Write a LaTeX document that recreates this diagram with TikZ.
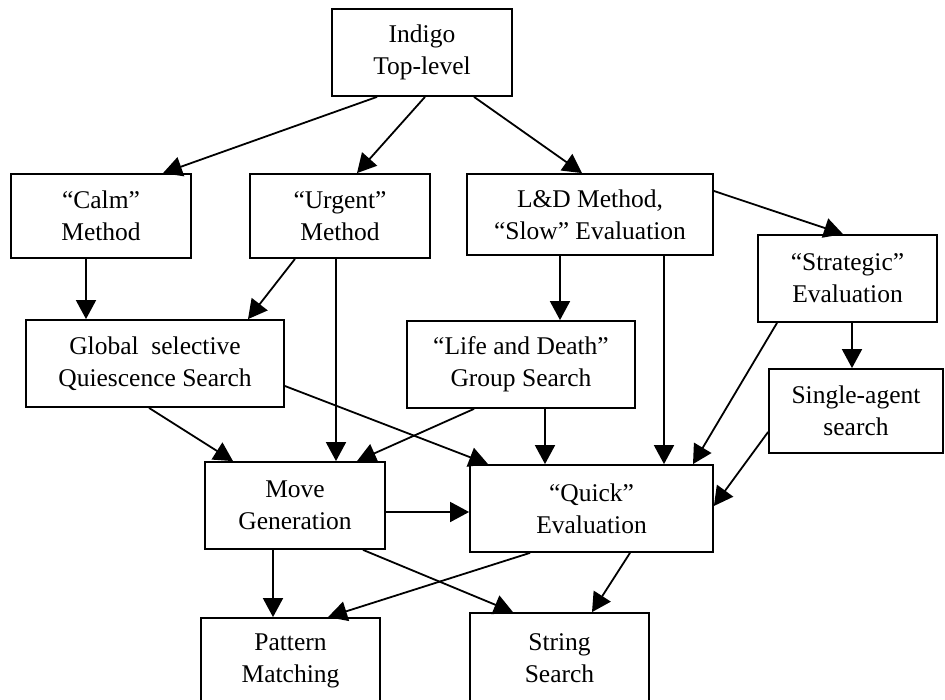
\documentclass[tikz,border=0pt]{standalone}
\usepackage{fontspec}
\setmainfont{Liberation Serif}
\usetikzlibrary{arrows.meta}
\begin{document}
\begin{tikzpicture}[x=1pt,y=-1pt,
  box/.style={draw,line width=1.8pt,align=center,inner sep=0pt,
    font=\fontsize{25.5}{32}\selectfont},
  arr/.style={line width=1.8pt,-{Triangle[length=19pt,width=20pt]}}]
\useasboundingbox (0,0) rectangle (945,700);
\node[box,minimum width=180pt,minimum height=87pt] (indigo) at (422,52.5) {Indigo\\Top-level};
\node[box,minimum width=180pt,minimum height=84pt] (calm) at (101,216) {“Calm”\\Method};
\node[box,minimum width=180pt,minimum height=84pt] (urgent) at (340,216) {“Urgent”\\Method};
\node[box,minimum width=246pt,minimum height=81pt] (ld) at (590,214.5) {L\&D Method,\\“Slow” Evaluation};
\node[box,minimum width=179pt,minimum height=87pt] (strat) at (847.5,278.5) {“Strategic”\\Evaluation};
\node[box,minimum width=258pt,minimum height=87pt] (glob) at (155,363.5) {Global~ selective\\Quiescence Search};
\node[box,minimum width=228pt,minimum height=87pt] (life) at (521,364.5) {“Life and Death”\\Group Search};
\node[box,minimum width=174pt,minimum height=84pt] (single) at (856,411) {Single-agent\\search};
\node[box,minimum width=180pt,minimum height=87pt] (move) at (295,505.5) {Move\\Generation};
\node[box,minimum width=243pt,minimum height=87pt] (quick) at (591.5,508.5) {“Quick”\\Evaluation};
\node[box,minimum width=179pt,minimum height=86pt] (pat) at (290.5,661) {Pattern\\Matching};
\node[box,minimum width=179pt,minimum height=90pt] (str) at (559.5,658) {String\\Search};

\draw[arr] ([xshift=-45pt]indigo.south) -- ([xshift=62pt]calm.north);
\draw[arr] ([xshift=3pt]indigo.south) -- ([xshift=17pt]urgent.north);
\draw[arr] ([xshift=52pt]indigo.south) -- ([xshift=-8pt]ld.north);
\draw[arr] ([yshift=23.5pt]ld.east) -- ([xshift=-4.5pt]strat.north);
\draw[arr] ([xshift=-15pt]calm.south) -- ([xshift=-69pt]glob.north);
\draw[arr] ([xshift=-45pt]urgent.south) -- ([xshift=93pt]glob.north);
\draw[arr] ([xshift=-4pt]urgent.south) -- ([xshift=41pt]move.north);
\draw[arr] ([xshift=-30pt]ld.south) -- ([xshift=39pt]life.north);
\draw[arr] ([xshift=74pt]ld.south) -- ([xshift=72.5pt]quick.north);
\draw[arr] ([xshift=4.5pt]strat.south) -- ([xshift=-4pt]single.north);
\draw[arr] ([xshift=-6pt]glob.south) -- ([xshift=-62pt]move.north);
\draw[arr] ([yshift=-22.5pt]glob.east) -- ([xshift=-103.5pt]quick.north);
\draw[arr] ([xshift=-47pt]life.south) -- ([xshift=62pt]move.north);
\draw[arr] ([xshift=24pt]life.south) -- ([xshift=-46.5pt]quick.north);
\draw[arr] ([xshift=-70.5pt]strat.south) -- ([xshift=101.5pt]quick.north);
\draw[arr] ([yshift=-21pt]single.west) -- ([yshift=2.5pt]quick.east);
\draw[arr] ([yshift=-6.5pt]move.east) -- ([yshift=-3.5pt]quick.west);
\draw[arr] ([xshift=-22pt]move.south) -- ([xshift=-17.5pt]pat.north);
\draw[arr] ([xshift=68pt]move.south) -- ([xshift=-46.5pt]str.north);
\draw[arr] ([xshift=-61.5pt]quick.south) -- ([xshift=37.5pt]pat.north);
\draw[arr] ([xshift=38.5pt]quick.south) -- ([xshift=32.5pt]str.north);
\end{tikzpicture}
\end{document}
